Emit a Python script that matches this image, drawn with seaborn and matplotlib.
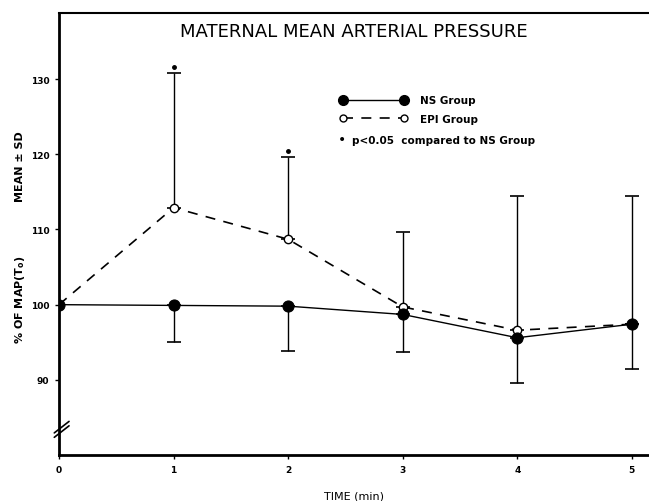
#%%
import numpy as np
import pandas as pd
import seaborn as sns
import matplotlib.pyplot as plt
from matplotlib.lines import Line2D

# %%
time = [0, 1, 2, 3, 4, 5]
ns_mean = [100, 99.9, 99.8, 98.7, 95.6, 97.4]
ns_sd = [0, 4.9, 6.0, 5.0, 6.0, 5.9]
epi_mean = [100, 112.9, 108.7, 99.7, 96.6, 97.4]
epi_sd = [0, 17.9, 10.9, 9.9, 17.9, 17.0]
signif = [False, True, True, False, False, False]

df = pd.DataFrame({"time": time, "NS": ns_mean, "EPI": epi_mean})

#%%
sns.set_style("ticks")
plt.rcParams["font.family"] = ["DejaVu Sans"]
plt.rcParams["text.color"] = "black"
plt.rcParams["axes.labelcolor"] = "black"
plt.rcParams["xtick.color"] = "black"
plt.rcParams["ytick.color"] = "black"
plt.rcParams["axes.edgecolor"] = "black"

fig = plt.figure(figsize=(6.49, 5.02), dpi=100)
ax = fig.add_axes([59 / 649, 1 - 456 / 502, 1 - 59 / 649, (456 - 14) / 502])

dash = (0, (6, 5))

# EPI group (dashed, open circles) with upper SD
sns.lineplot(data=df, x="time", y="EPI", ax=ax, color="black", linestyle=dash,
             linewidth=1.2, marker="o", markersize=6, markerfacecolor="white",
             markeredgecolor="black", markeredgewidth=1.0, zorder=3)
ax.errorbar(time[1:], epi_mean[1:], yerr=[np.zeros(5), epi_sd[1:]], fmt="none",
            ecolor="black", elinewidth=1.0, capsize=5, capthick=1.2, zorder=2)

# NS group (solid, filled circles) with lower SD
sns.lineplot(data=df, x="time", y="NS", ax=ax, color="black", linestyle="-",
             linewidth=1.0, marker="o", markersize=8, markerfacecolor="black",
             markeredgecolor="black", zorder=4)
ax.errorbar(time[1:], ns_mean[1:], yerr=[ns_sd[1:], np.zeros(5)], fmt="none",
            ecolor="black", elinewidth=1.0, capsize=5, capthick=1.2, zorder=2)

# significance marks
for t, m, s, flag in zip(time, epi_mean, epi_sd, signif):
    if flag:
        ax.plot(t, m + s + 0.8, marker="o", markersize=2.5, color="black")

ax.set_xlim(0, 5.15)
ax.set_ylim(80, 138.8)
ax.set_xticks(time)
ax.set_yticks([90, 100, 110, 120, 130])
ax.tick_params(axis="both", direction="out", length=3, width=1, labelsize=6.5, pad=4)
for lab in ax.get_xticklabels() + ax.get_yticklabels():
    lab.set_fontweight("bold")
ax.set_xlabel("TIME (min)", fontsize=8, labelpad=12)
ax.set_ylabel("")

ax.spines["right"].set_visible(False)
ax.spines["left"].set_linewidth(2)
ax.spines["bottom"].set_linewidth(2)
ax.spines["top"].set_linewidth(1.5)

# axis break
for dy in (0.0, 0.01):
    ax.plot([-0.008, 0.017], [0.040 + dy, 0.066 + dy], transform=ax.transAxes,
            color="black", linewidth=1.2, clip_on=False)

ax.set_title("MATERNAL MEAN ARTERIAL PRESSURE", fontsize=13, y=0.93)

fig.text(20 / 649, 1 - 167 / 502, "MEAN ± SD", rotation=90, ha="center", va="center",
         fontsize=8, fontweight="bold")
fig.text(20 / 649, 1 - 300 / 502, "% OF MAP(T$_\\mathbf{o}$)", rotation=90, ha="center",
         va="center", fontsize=8, fontweight="bold")

handles = [
    Line2D([], [], color="black", linestyle="-", linewidth=1.0, marker="o",
           markersize=7, markerfacecolor="black"),
    Line2D([], [], color="black", linestyle=dash, linewidth=1.2, marker="o",
           markersize=5, markerfacecolor="white"),
]
ax.legend(handles, ["NS Group", "EPI Group"], loc="upper left", numpoints=2,
          bbox_to_anchor=(335 / 649, 1 - 91 / 502), bbox_transform=fig.transFigure,
          frameon=False, borderpad=0, handlelength=6.4, handletextpad=1.3,
          labelspacing=0.85, prop={"size": 7.5, "weight": "bold"})
fig.text(342 / 649, 1 - 140 / 502, "•", ha="center", va="center", fontsize=10)
fig.text(352 / 649, 1 - 141 / 502, "p<0.05  compared to NS Group", ha="left",
         va="center", fontsize=7.5, fontweight="bold")

fig.savefig("out.png", dpi=100)
